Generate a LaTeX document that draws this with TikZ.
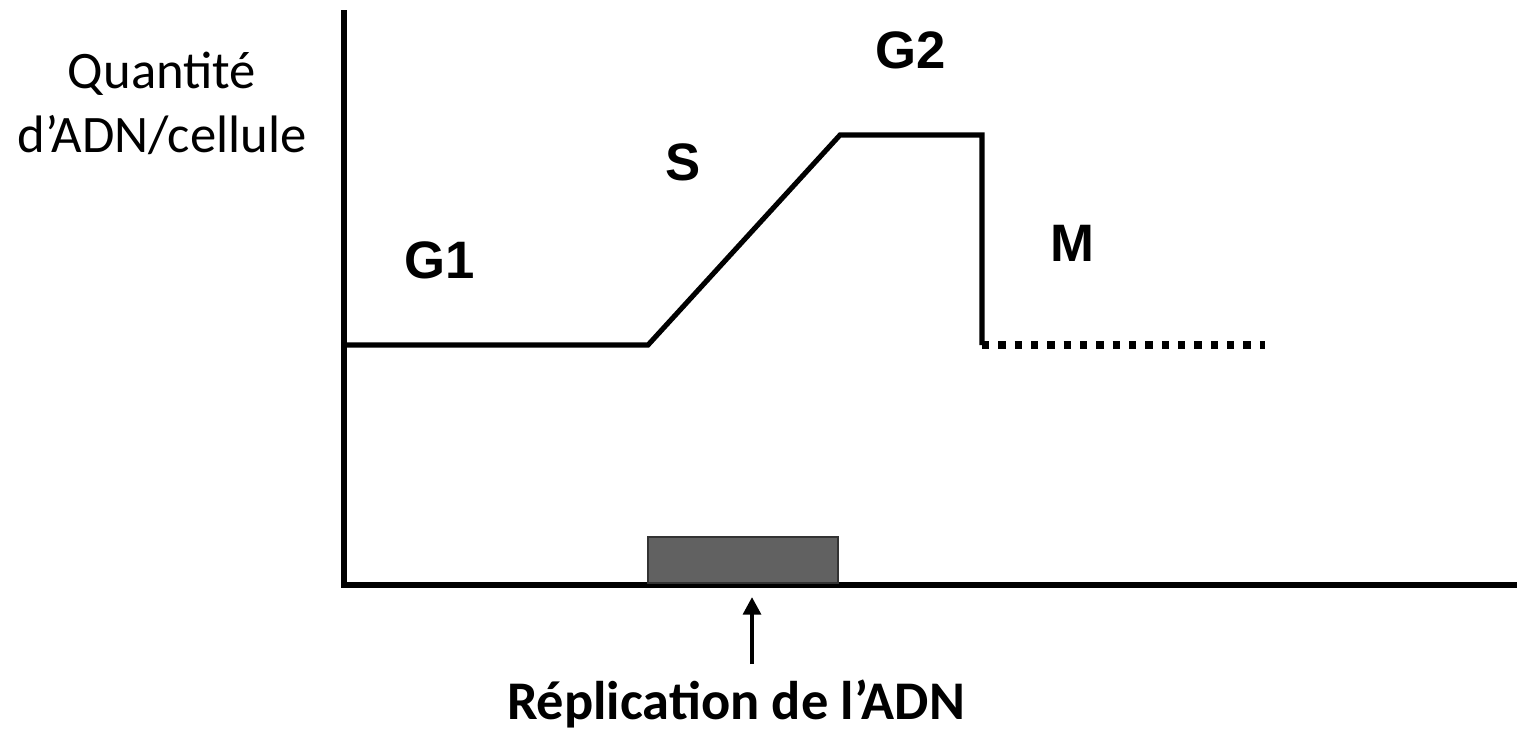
\documentclass[tikz,border=0pt]{standalone}
\usepackage{fontspec}
\setmainfont{Carlito}
\newfontfamily\phasefont{Liberation Sans}
\usetikzlibrary{arrows.meta}
\tikzset{
  phase/.style={font=\phasefont\bfseries\fontsize{30}{34}\selectfont},
  curve/.style={line width=2.9pt, line join=miter},
  dotline/.style={line width=4.5pt, dash pattern=on 4.2pt off 5.1pt},
}
\begin{document}
\begin{tikzpicture}[x=0.02cm, y=-0.02cm]
  \useasboundingbox (0,0) rectangle (1517,734);
  \coordinate (o) at (344,585);
  \coordinate (ytop) at (344,10);
  \coordinate (xend) at (1517,585);
  \coordinate (g1a) at (344,345);
  \coordinate (g1b) at (648,345);
  \coordinate (g2a) at (840,135);
  \coordinate (g2b) at (982,135);
  \coordinate (ma) at (982,345);
  \coordinate (mb) at (1265,345);
  % axes
  \draw[curve] (ytop) -- (o) -- (xend);
  % DNA curve
  \draw[curve] (g1a) -- (g1b) -- (g2a) -- (g2b) -- (ma);
  \draw[dotline] (ma) -- (mb);
  % replication box and arrow
  \draw[fill=black!62, draw=black!80, line width=1pt] (648,537) rectangle (838,583);
  \node[anchor=base, font=\bfseries\fontsize{31}{36}\selectfont] (rep) at (736,719) {Réplication de l’ADN};
  \coordinate (tail) at (752,664);
  \coordinate (arr) at (752,597);
  \draw[line width=2.4pt, -{Triangle[width=10pt,length=10pt]}] (tail) -- (arr);
  % labels
  \node[align=center, font=\fontsize{30}{36.5}\selectfont] (yl) at (162,103) {Quantité\\d’ADN/cellule};
  \node[phase] (g1) at (440,260) {G1};
  \node[phase] (s) at (683,162) {S};
  \node[phase] (g2) at (911,50) {G2};
  \node[phase] (m) at (1072,243) {M};
\end{tikzpicture}
\end{document}
